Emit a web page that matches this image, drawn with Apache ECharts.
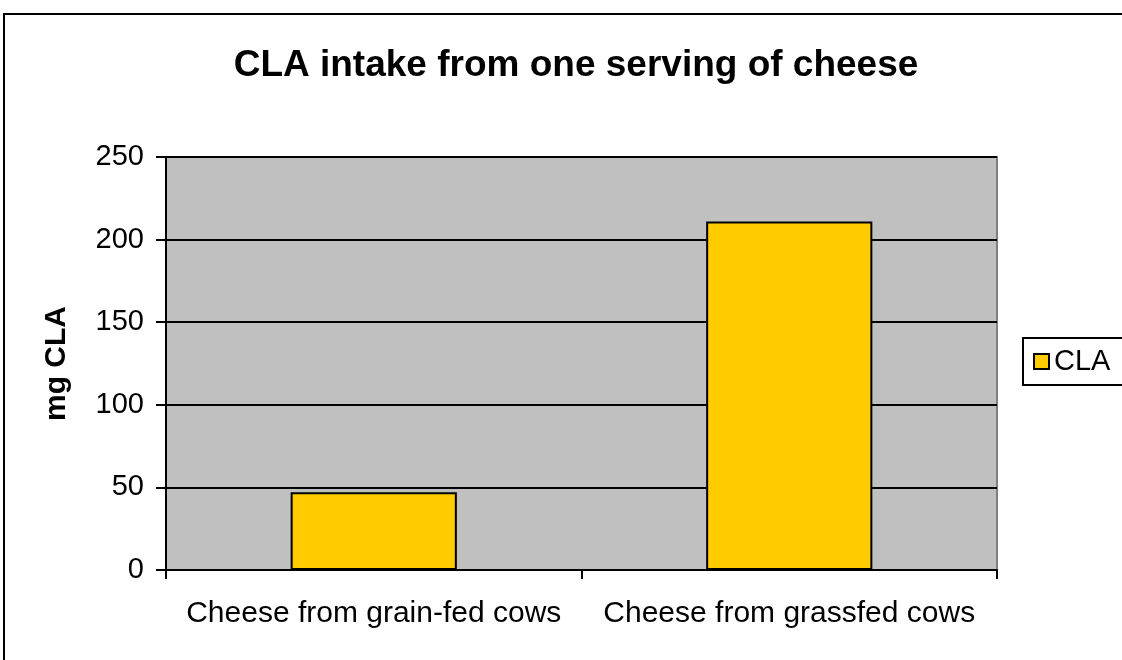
<!DOCTYPE html>
<html>
<head>
<meta charset="utf-8">
<script src="https://cdn.jsdelivr.net/npm/echarts@6/dist/echarts.min.js"></script>
<style>
html,body{margin:0;padding:0;background:#fff;}
#chart{width:1122px;height:660px;}
</style>
</head>
<body>
<div id="chart"></div>
<script>
const titleText = 'CLA intake from one serving of cheese';
const categories = ['Cheese from grain-fed cows', 'Cheese from grassfed cows'];
const seriesName = 'CLA';
const claValues = [47, 211];
const yAxisName = 'mg CLA';
const yMin = 0, yMax = 250, yStep = 50;

const font = 'Liberation Sans, Arial, sans-serif';
const chart = echarts.init(document.getElementById('chart'));
chart.setOption({
  animation: false,
  backgroundColor: '#fff',
  title: {
    text: titleText,
    left: 571, top: 42, textAlign: 'center',
    textStyle: {fontFamily: font, fontSize: 37, fontWeight: 'bold', color: '#000'}
  },
  graphic: [{
    type: 'rect', silent: true, z: -1,
    shape: {x: 4, y: 14, width: 1200, height: 700},
    style: {fill: 'none', stroke: '#000', lineWidth: 2}
  }],
  legend: {
    left: 1023, top: 338,
    orient: 'vertical',
    data: [seriesName],
    borderColor: '#000', borderWidth: 2,
    padding: [9, 30, 9, 10],
    itemWidth: 15, itemHeight: 15, itemGap: 0,
    icon: 'rect',
    textStyle: {fontFamily: font, fontSize: 29, color: '#000'}
  },
  grid: {left: 166, right: 125, top: 157, bottom: 90, show: true,
    backgroundColor: '#C0C0C0', borderColor: '#808080', borderWidth: 2},
  xAxis: {
    type: 'category', data: categories,
    axisLine: {lineStyle: {color: '#000', width: 2}},
    axisTick: {show: true, interval: 0, length: 9, lineStyle: {color: '#000', width: 2}},
    axisLabel: {interval: 0, fontFamily: font, fontSize: 30, color: '#000', margin: 29}
  },
  yAxis: {
    type: 'value', min: yMin, max: yMax, interval: yStep,
    name: yAxisName, nameLocation: 'middle', nameGap: 94,
    nameTextStyle: {fontFamily: font, fontSize: 30, fontWeight: 'bold', color: '#000'},
    axisLine: {show: true, lineStyle: {color: '#000', width: 2}},
    axisTick: {show: true, length: 10, lineStyle: {color: '#000', width: 2}},
    axisLabel: {fontFamily: font, fontSize: 29, color: '#000', margin: 22},
    splitLine: {show: true, lineStyle: {color: '#000', width: 2}}
  },
  series: [{
    name: seriesName, type: 'bar', data: claValues, barWidth: '40%',
    itemStyle: {color: '#FFCC00', borderColor: '#000', borderWidth: 2}
  }]
});
</script>
</body>
</html>
